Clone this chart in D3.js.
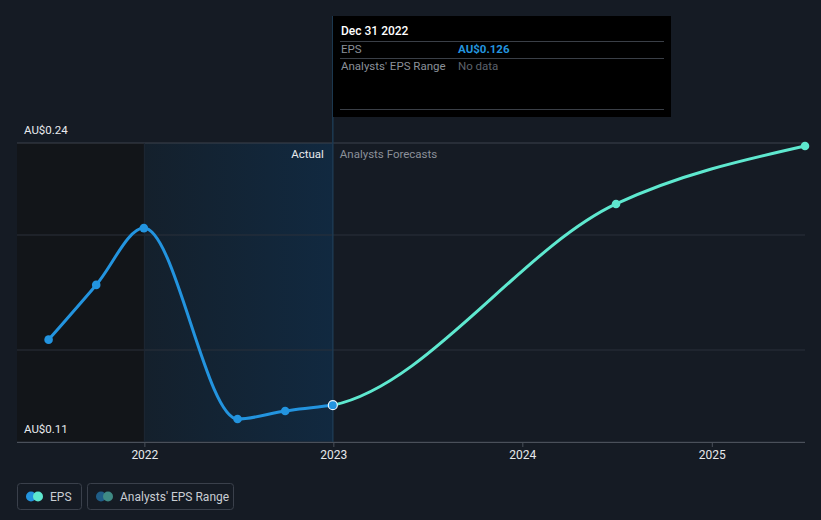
<!DOCTYPE html>
<html><head><meta charset="utf-8">
<script src="https://cdn.jsdelivr.net/npm/d3@7"></script>
<style>
html,body{margin:0;padding:0;background:#151b24;}
svg{display:block;font-family:Roboto,"Open Sans",sans-serif;}
</style></head>
<body>
<svg id="c" width="821" height="520"></svg>
<script>
// ---- data ----
const actualDates = ["2021-06-30","2021-09-30","2021-12-31","2022-06-30","2022-09-30","2022-12-31"];
const actualEPS   = [0.1545, 0.1783, 0.2030, 0.1200, 0.1235, 0.126];
const forecastDates = ["2022-12-31","2024-06-30","2025-06-30"];
const forecastEPS   = [0.126, 0.2135, 0.2387];
const yTickValues = [0.11, 0.15, 0.20, 0.24];
const yLabelValues = [0.24, 0.11];
const xTickYears = [2022, 2023, 2024, 2025];
const tooltipRows = [["EPS","AU$0.126"],["Analysts' EPS Range","No data"]];
const tooltipTitle = "Dec 31 2022";
const legendItems = ["EPS","Analysts' EPS Range"];

(function(){
const parse = d3.utcParse("%Y-%m-%d");
const actual = actualDates.map((d,i)=>({date:parse(d), v:actualEPS[i]}));
const forecast = forecastDates.map((d,i)=>({date:parse(d), v:forecastEPS[i]}));

const svg = d3.select("#c");
const W = 821, H = 520;
const pL = 17, pR = 805, pT = 143, pB = 442;

const x = d3.scaleUtc().domain([new Date(Date.UTC(2021,3,30)), new Date(Date.UTC(2025,5,30))]).range([pL,pR]);
const y = d3.scaleLinear().domain([0.11,0.24]).range([pB,pT]);

svg.append("rect").attr("width",W).attr("height",H).attr("fill","#151b24");

const defs = svg.append("defs");
const g1 = defs.append("linearGradient").attr("id","pastGrad").attr("x1","0").attr("x2","1").attr("y1","0").attr("y2","0");
g1.append("stop").attr("offset","0").attr("stop-color","#14202c");
g1.append("stop").attr("offset","1").attr("stop-color","#112940");
defs.append("clipPath").attr("id","fcClip").append("rect")
  .attr("x", x(parse("2022-12-31"))).attr("y",0).attr("width",W).attr("height",H);

const x2022 = x(new Date(Date.UTC(2022,0,1)));
const xNow = x(parse("2022-12-31"));
svg.append("rect").attr("x",pL).attr("y",pT).attr("width",x2022-pL).attr("height",pB-pT).attr("fill","#121519");
svg.append("rect").attr("x",x2022).attr("y",pT).attr("width",xNow-x2022).attr("height",pB-pT).attr("fill","url(#pastGrad)");

svg.append("g").selectAll("line").data(yTickValues).join("line")
  .attr("x1",pL).attr("x2",pR).attr("y1",d=>y(d)).attr("y2",d=>y(d))
  .attr("stroke",d=>d===0.24?"#3d434d":"#2a303a").attr("stroke-width",1);
svg.append("line").attr("x1",x2022).attr("x2",x2022).attr("y1",pT).attr("y2",pB).attr("stroke","#1e2733");

const xAxis = d3.axisBottom(x).tickValues(xTickYears.map(yr=>new Date(Date.UTC(yr,0,1)))).tickFormat(d3.utcFormat("%Y")).tickSize(5).tickPadding(3);
const gx = svg.append("g").attr("transform",`translate(0,${pB})`).call(xAxis);
gx.select(".domain").attr("stroke","#4a505a").attr("d",`M${pL},0.5H${pR}`);
gx.selectAll(".tick line").attr("stroke","#4a505a");
gx.selectAll(".tick text").attr("fill","#e6e8eb").attr("font-size",12).attr("font-family","Roboto, sans-serif");

svg.append("g").selectAll("text").data(yLabelValues).join("text")
  .attr("x",24).attr("y",d=>y(d)-9).attr("fill","#e8eaed").attr("font-size",11.5)
  .text(d=>"AU$"+d3.format(".2f")(d));

svg.append("text").attr("x",xNow-9).attr("y",158).attr("text-anchor","end").attr("fill","#e8eaed").attr("font-size",11.5).text("Actual");
svg.append("text").attr("x",xNow+7).attr("y",158).attr("fill","#8b9099").attr("font-size",11.5).text("Analysts Forecasts");

svg.append("line").attr("x1",xNow).attr("x2",xNow).attr("y1",16).attr("y2",pB).attr("stroke","#1d3a52").attr("stroke-width",1.5);

const line = d3.line().x(d=>x(d.date)).y(d=>y(d.v)).curve(d3.curveMonotoneX);
const fcFull = [actual[actual.length-2]].concat(forecast);
svg.append("path").datum(fcFull).attr("clip-path","url(#fcClip)")
  .attr("d",line).attr("fill","none").attr("stroke","#5ee8cf").attr("stroke-width",3);
svg.append("path").datum(actual).attr("d",line).attr("fill","none").attr("stroke","#2394df").attr("stroke-width",3);

svg.append("g").selectAll("circle").data(forecast.slice(1)).join("circle")
  .attr("cx",d=>x(d.date)).attr("cy",d=>y(d.v)).attr("r",4.3).attr("fill","#5ee8cf");
svg.append("g").selectAll("circle").data(actual.slice(0,-1)).join("circle")
  .attr("cx",d=>x(d.date)).attr("cy",d=>y(d.v)).attr("r",4.3).attr("fill","#2394df");
const last = actual[actual.length-1];
svg.append("circle").attr("cx",x(last.date)).attr("cy",y(last.v)).attr("r",4.5).attr("fill","#2394df").attr("stroke","#e8f4fc").attr("stroke-width",1.2);

const tt = svg.append("g").attr("transform","translate(333,16)");
tt.append("rect").attr("width",338).attr("height",101).attr("fill","#000");
tt.append("text").attr("x",8).attr("y",19).attr("fill","#fff").attr("font-size",12).attr("font-weight",500).text(tooltipTitle);
[25,42,93].forEach(yy=>tt.append("line").attr("x1",7).attr("x2",331).attr("y1",yy+0.5).attr("y2",yy+0.5).attr("stroke","#3a3f47"));
tooltipRows.forEach((r,i)=>{
  tt.append("text").attr("x",8).attr("y",37+i*17).attr("fill","#8b9099").attr("font-size",11.5).text(r[0]);
  tt.append("text").attr("x",125).attr("y",37+i*17).attr("fill",i===0?"#2394df":"#5d626b")
    .attr("font-size",11.5).attr("font-weight",i===0?700:400).text(r[1]);
});

const leg = svg.append("g");
const legW = [64,146];
const legX = [17,87];
const legColors = [["#2394df","#5ee8cf"],["#1f5d87","#3f8a84"]];
legendItems.forEach((t,i)=>{
  const g = leg.append("g").attr("transform",`translate(${legX[i]},483)`);
  g.append("rect").attr("x",0.5).attr("y",0.5).attr("width",legW[i]).attr("height",26).attr("rx",3)
    .attr("fill","none").attr("stroke","#3a404b");
  g.append("circle").attr("cx",14).attr("cy",13.5).attr("r",5).attr("fill",legColors[i][0]);
  g.append("circle").attr("cx",21).attr("cy",13.5).attr("r",5).attr("fill",legColors[i][1]);
  g.append("text").attr("x",33).attr("y",18).attr("fill","#c9cdd3").attr("font-size",12).text(t);
});
})();
</script>
</body></html>
